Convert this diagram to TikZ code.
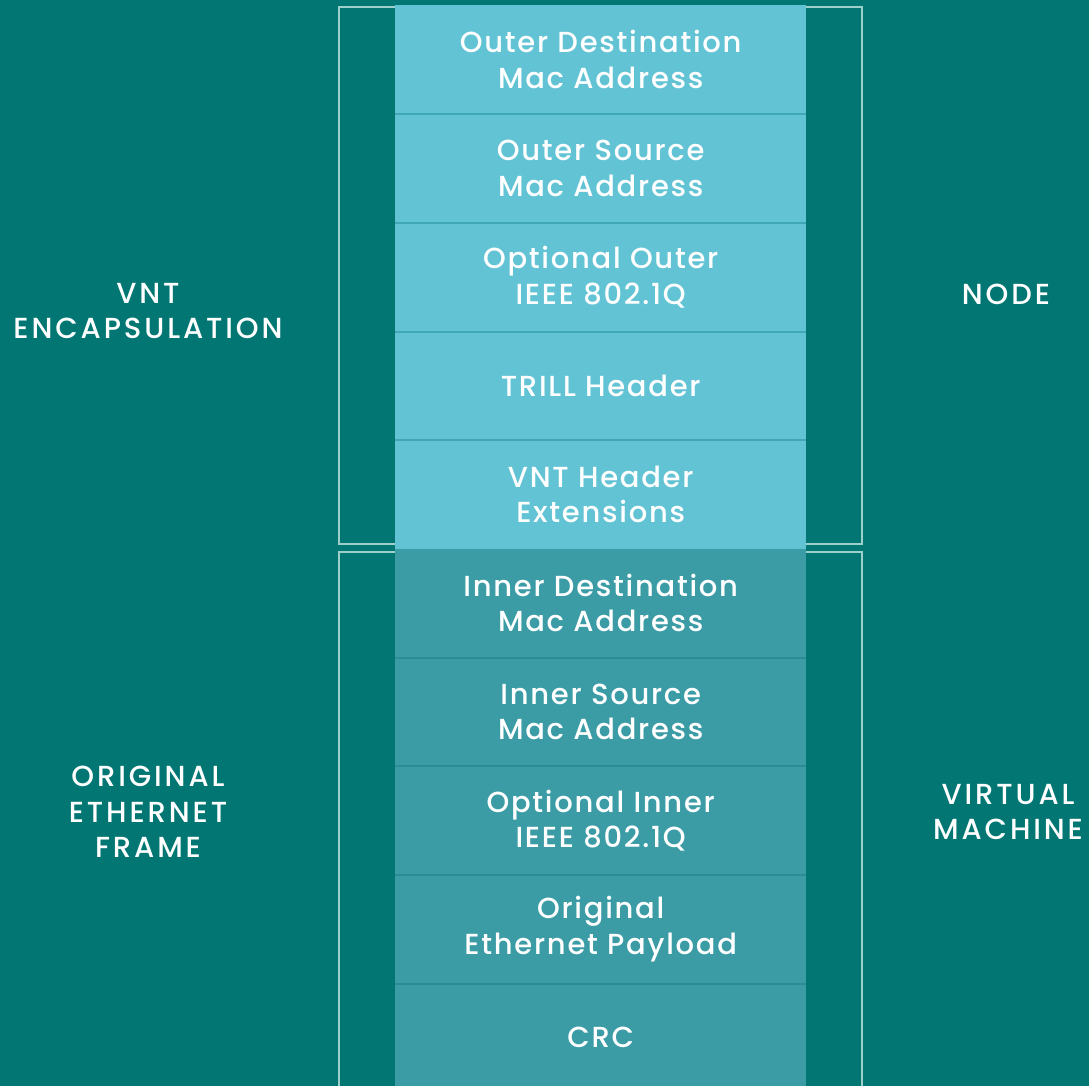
\documentclass[tikz,border=0pt]{standalone}
\usepackage{fontspec}
\setmainfont{Poppins}[BoldFont={* Medium}]
\newfontfamily\fieldfont{Poppins Medium}[LetterSpace=6]
\newfontfamily\sidefont{Poppins Medium}[LetterSpace=10]
\definecolor{bg}{HTML}{027672}
\definecolor{encap}{HTML}{62C3D4}
\definecolor{encapline}{HTML}{3FA7B5}
\definecolor{orig}{HTML}{3B9CA6}
\definecolor{origline}{HTML}{2B8C94}
\definecolor{bracket}{HTML}{9FCFCB}
\begin{document}
\begin{tikzpicture}[x=1pt,y=-1pt,
  field/.style={minimum width=411pt, minimum height=108.7pt, inner sep=0pt,
    anchor=north west, text=white, align=center,
    font=\fieldfont\fontsize{29}{35.5}\selectfont},
  encapfield/.style={field, fill=encap},
  origfield/.style={field, fill=orig},
  side/.style={text=white, align=center, font=\sidefont\fontsize{29}{35.5}\selectfont},
  bracketline/.style={draw=bracket, line width=2pt},
]
% background and page size
\fill[bg] (0,0) rectangle (1089,1086);
\useasboundingbox (0,0) rectangle (1089,1086);

% brackets around the two groups of fields
\draw[bracketline] (339,7) rectangle (862,544);
\draw[bracketline] (339,1095) -- (339,552) -- (862,552) -- (862,1095);

% encapsulation fields
\node[encapfield] (odmac) at (395,5)     {Outer Destination\\Mac Address};
\node[encapfield] (osmac) at (395,113.7) {Outer Source\\Mac Address};
\node[encapfield] (oq)    at (395,222.4) {Optional Outer\\IEEE 802.1Q};
\node[encapfield] (trill) at (395,331.1) {TRILL Header};
\node[encapfield] (vnt)   at (395,439.8) {VNT Header\\Extensions};

% original ethernet frame fields
\node[origfield] (idmac) at (395,548.5) {Inner Destination\\Mac Address};
\node[origfield] (ismac) at (395,657.2) {Inner Source\\Mac Address};
\node[origfield] (iq)    at (395,765.9) {Optional Inner\\IEEE 802.1Q};
\node[origfield] (pay)   at (395,874.6) {Original\\Ethernet Payload};
\node[origfield] (crc)   at (395,983.3) {CRC};

% dividers between fields
\foreach \f in {odmac,osmac,oq,trill}
  \draw[encapline, line width=2pt] (\f.south west) -- (\f.south east);
\foreach \f in {idmac,ismac,iq,pay}
  \draw[origline, line width=2pt] (\f.south west) -- (\f.south east);

% side labels
\node[side] (lencap) at (148,311) {VNT\\ENCAPSULATION};
\node[side] (lnode)  at (1006,294) {NODE};
\node[side] (lorig)  at (148,812) {ORIGINAL\\ETHERNET\\FRAME};
\node[side] (lvm)    at (1008,812) {VIRTUAL\\MACHINE};
\end{tikzpicture}
\end{document}
